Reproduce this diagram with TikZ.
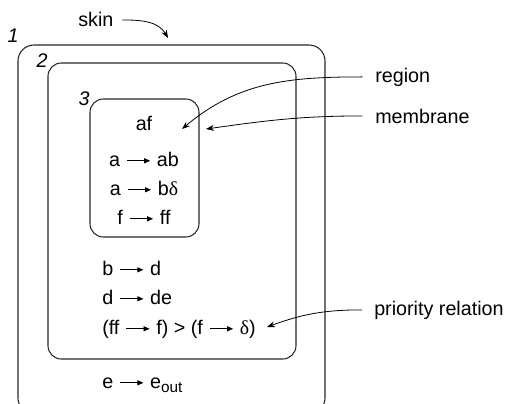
\documentclass[tikz,border=0pt]{standalone}
\usepackage{fontspec}
\setmainfont{Liberation Sans}
\newfontfamily\grk{Liberation Serif}
\usetikzlibrary{arrows.meta}
\newcommand\rar{\hspace{4.8pt}\tikz[baseline=0pt]\draw[line width=0.6pt,-{Triangle[length=4.5pt,width=3.8pt]}] (0pt,3.9pt) -- (17.5pt,3.9pt);\hspace{4.8pt}}
\newcommand\dlt{{\grk δ}}
\begin{document}
\begin{tikzpicture}[x=0.75pt,y=-0.75pt,
  txt/.style={font=\fontsize{14.8}{17}\selectfont, inner sep=0pt, anchor=base},
  num/.style={font=\fontsize{14.8}{17}\selectfont\itshape, inner sep=0pt, anchor=base},
  memb/.style={draw=black!85, line width=0.8pt, rounded corners=10pt},
  callout/.style={line width=0.6pt,-{Stealth[length=6pt,width=4.5pt]}}]
\useasboundingbox (0,0) rectangle (506,403);
% membranes
\draw[memb, rounded corners=12pt] (18,45) rectangle (325,414);
\draw[memb] (48,63) rectangle (296,359);
\draw[memb] (90,99) rectangle (199,237);
% labels
\node[num] (n1) at (13,43) {1};
\node[num] (n2) at (42,68) {2};
\node[num] (n3) at (84,105) {3};
\node[txt, anchor=base west] (skin) at (78,27) {skin};
% region 3
\node[txt] (af) at (144,130) {af};
\node[txt] (r1) at (144,166) {a\rar ab};
\node[txt] (r2) at (144,195) {a\rar b\dlt};
\node[txt] (r3) at (144,224) {f\rar ff};
% region 2
\node[txt, anchor=base west] (r4) at (102,275) {b\rar d};
\node[txt, anchor=base west] (r5) at (102,304) {d\rar de};
\node[txt, anchor=base west] (r6) at (102,334) {(ff\rar f) > (f\rar \dlt)};
% region 1
\node[txt, anchor=base west] (r7) at (102,388) {e\rar e\raisebox{-3.5pt}{\fontsize{11.5}{13}\selectfont out}};
% callouts
\node[txt, anchor=base west] (region) at (375,82) {region};
\node[txt, anchor=base west] (membrane) at (375,123) {membrane};
\node[txt, anchor=base west] (prio) at (374,315) {priority relation};
\coordinate (skinEnd) at (168,38);
\coordinate (regEnd) at (182,129);
\coordinate (memEnd) at (206,129);
\coordinate (prEnd) at (267,327);
\draw[callout] ([xshift=6.5pt]skin.east) to[out=0,in=120] (skinEnd);
\draw[callout] ([xshift=-9.5pt]region.west) to[out=180,in=40] (regEnd);
\draw[callout] ([xshift=-9.5pt]membrane.west) to[out=180,in=8] (memEnd);
\draw[callout] ([xshift=-9pt]prio.west) to[out=180,in=20] (prEnd);
\end{tikzpicture}
\end{document}
